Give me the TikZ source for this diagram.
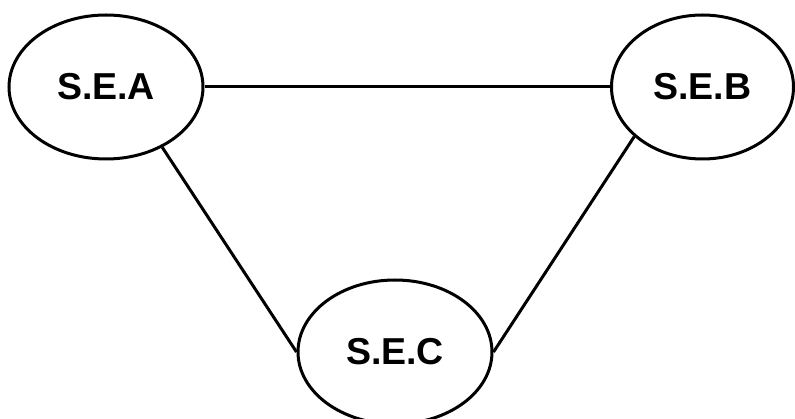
\documentclass[tikz,border=0pt]{standalone}
\usepackage{fontspec}
\setmainfont{Liberation Sans}
\usetikzlibrary{shapes.geometric}
\begin{document}
\begin{tikzpicture}[x=1pt,y=-1pt,
  sebox/.style={ellipse,draw,line width=3pt,inner sep=0pt,
    font=\fontsize{37.5}{40}\selectfont\bfseries},
  link/.style={line width=3pt}]
\useasboundingbox (0,0) rectangle (795,419);
\node[sebox,minimum width=194pt,minimum height=144pt] (A) at (106,87) {S.E.A};
\node[sebox,minimum width=182pt,minimum height=144pt] (B) at (702.5,87) {S.E.B};
\node[sebox,minimum width=194pt,minimum height=144pt] (C) at (395,352) {S.E.C};
\draw[link] (A.east) -- (B.west);
\draw[link] (A.-47) -- (C.west);
\draw[link] (B.-144) -- (C.east);
\end{tikzpicture}
\end{document}
